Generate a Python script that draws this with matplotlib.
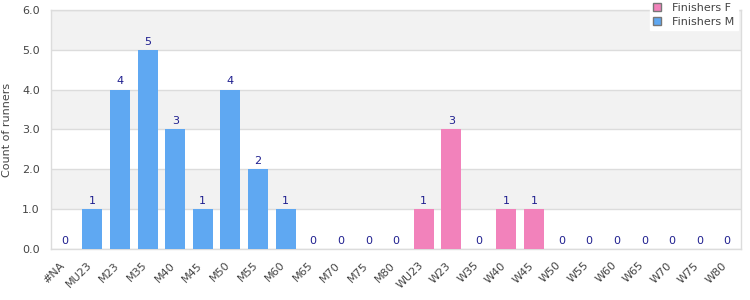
import matplotlib
matplotlib.use('Agg')
import matplotlib.pyplot as plt
import matplotlib.transforms as mtransforms
from matplotlib.patches import Patch

categories = ["#NA", "MU23", "M23", "M35", "M40", "M45", "M50", "M55", "M60", "M65", "M70", "M75", "M80",
	"WU23", "W23", "W35", "W40", "W45", "W50", "W55", "W60", "W65", "W70", "W75", "W80"]
finishers_m = [0, 1, 4, 5, 3, 1, 4, 2, 1, 0, 0, 0, 0, None, None, None, None, None, None, None, None, None, None, None, None]
finishers_f = [None, None, None, None, None, None, None, None, None, None, None, None, None,
	1, 3, 0, 1, 1, 0, 0, 0, 0, 0, 0, 0]

COLOR_M = "#5fa8f2"
COLOR_F = "#f282bb"
LABEL_COLOR = "#1f1f8f"
TEXT_COLOR = "#444444"
GRID_COLOR = "#dcdcdc"

plt.rcParams['font.family'] = ['DejaVu Sans']
fig = plt.figure(figsize=(7.5, 3), dpi=100)
ax = fig.add_axes([0.068, 0.17, 0.92, 0.797])

x = list(range(len(categories)))
width = 0.72

for values, color in [(finishers_m, COLOR_M), (finishers_f, COLOR_F)]:
	xs = [i for i, v in enumerate(values) if v is not None]
	vs = [values[i] for i in xs]
	ax.bar(xs, vs, width=width, color=color, zorder=3)
	for xi, v in zip(xs, vs):
		ax.text(xi, v + 0.08, str(v), ha="center", va="bottom", fontsize=8, color=LABEL_COLOR, zorder=4)

ax.set_xlim(-0.5, len(categories) - 0.5)
ax.set_ylim(0, 6)

# alternating bands
for lo in range(0, 6):
	if lo % 2 == 1:
		ax.axhspan(lo, lo + 1, color="#f2f2f2", zorder=0, lw=0)
ax.set_yticks(range(0, 7))
ax.set_yticklabels(["%.1f" % v for v in range(0, 7)])
ax.yaxis.grid(True, color=GRID_COLOR, lw=1, zorder=1)

ax.set_xticks(x)
ax.set_xticklabels(categories, rotation=45, ha="right", rotation_mode="anchor")
ax.tick_params(axis="both", length=0, labelsize=8, labelcolor=TEXT_COLOR)
ax.tick_params(axis="y", pad=8)
ax.tick_params(axis="x", pad=8)
shift = mtransforms.ScaledTranslation(-4 / 72, 0, fig.dpi_scale_trans)
for lbl in ax.get_xticklabels():
	lbl.set_transform(lbl.get_transform() + shift)
for spine in ax.spines.values():
	spine.set_color(GRID_COLOR)
	spine.set_linewidth(1)

ax.set_ylabel("Count of runners", fontsize=8, color=TEXT_COLOR, labelpad=7)

handles = [Patch(facecolor=COLOR_F, edgecolor="#777777", label="Finishers F"),
	Patch(facecolor=COLOR_M, edgecolor="#777777", label="Finishers M")]
leg = fig.legend(handles=handles, loc="upper right", bbox_to_anchor=(0.988, 1.012), fontsize=8,
	frameon=True, fancybox=False, edgecolor="white", framealpha=1, handlelength=0.7, handleheight=0.7,
	borderpad=0.3, labelspacing=0.35, handletextpad=1.0, borderaxespad=0.3)
for t in leg.get_texts():
	t.set_color(TEXT_COLOR)

fig.savefig("out.png", dpi=100)
